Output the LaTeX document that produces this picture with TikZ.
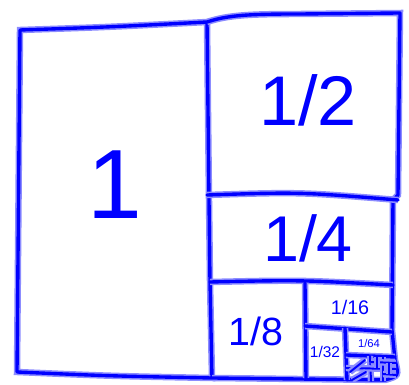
\documentclass[tikz,border=0pt]{standalone}
\usepackage{fontspec}
\setmainfont{Liberation Sans}
\tikzset{pen/.style={blue, line width=2.4pt, line cap=round, line join=round,
    preaction={draw=blue!45, line width=4.6pt}},
  thinpen/.style={pen, line width=1.4pt, preaction={draw=blue!45, line width=2.8pt}},
  frac/.style={blue, inner sep=0pt}}

\begin{document}
\begin{tikzpicture}[x=0.025cm, y=-0.025cm]
\useasboundingbox (0,0) rectangle (409,385);

% the whole square, left half
\draw[pen] (20,30) .. controls (110,27) .. (207,22) -- (209,200) -- (210,282) -- (212,378)
  .. controls (110,376) .. (17,372) -- cycle;

% right half and its outline
\draw[pen] (207,22) .. controls (228,15) and (250,14) .. (300,14) -- (400,13) -- (398,195)
  -- (393,200) -- (392,330) -- (395,360) .. controls (399,376) .. (385,380) -- (212,378);

% halving again and again
\draw[pen] (207,195) .. controls (300,192) .. (398,200);
\draw[pen] (210,282) .. controls (300,280) .. (393,285);
\draw[pen] (305,283) -- (306,378);
\draw[pen] (305,326) -- (392,332);
\draw[pen] (345,328) -- (347,380);
\draw[pen] (346,355) -- (395,357);

% the rest gets tiny
\draw[thinpen] (370,356) -- (371,381);
\draw[thinpen] (346,368) -- (396,369);
\draw[thinpen] (383,357) -- (383,381);
\draw[thinpen] (371,362) -- (396,363);
\draw[thinpen] (377,357) -- (377,368);
\draw[thinpen] (383,374) -- (396,375);
\draw[thinpen] (389,363) -- (389,374);
\draw[thinpen] (350,372) -- (365,360);
\draw[thinpen] (352,380) -- (366,372);

\node[frac, font=\fontsize{70}{70}\selectfont] (one) at (115,185) {1};
\node[frac, font=\fontsize{50}{50}\selectfont] (half) at (308,100) {1/2};
\node[frac, font=\fontsize{46}{46}\selectfont] (quarter) at (308,238) {1/4};
\node[frac, font=\fontsize{28}{28}\selectfont] (eighth) at (256,331) {1/8};
\node[frac, font=\fontsize{14}{14}\selectfont] (sixteenth) at (350,307) {1/16};
\node[frac, font=\fontsize{11}{11}\selectfont] (thirtysecond) at (325,352) {1/32};
\node[frac, font=\fontsize{8}{8}\selectfont] (sixtyfourth) at (369,343) {1/64};

\end{tikzpicture}
\end{document}
